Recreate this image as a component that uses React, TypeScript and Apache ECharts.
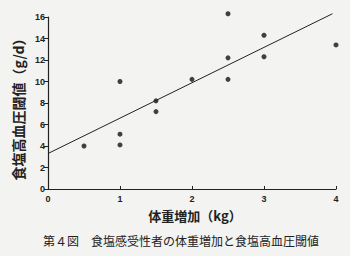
import React, { useEffect, useRef } from "react";
import * as echarts from "echarts";

const weightGain = [0.5, 1, 1, 1, 1.5, 1.5, 2, 2.5, 2.5, 2.5, 3, 3, 4];
const threshold = [4.0, 10.0, 5.1, 4.1, 8.2, 7.2, 10.2, 16.3, 12.2, 10.2, 14.3, 12.3, 13.4];
const fitX = [0, 3.95];
const fitY = [3.3, 16.3];
const yTicks = [0, 2, 4, 6, 8, 10, 12, 14, 16];
const xTicks = [0, 1, 2, 3, 4];
const xName = "体重増加（kg）";
const yName = "食塩高血圧閾値（g/d）";
const caption = "第４図　食塩感受性者の体重増加と食塩高血圧閾値";

export default function App() {
  const ref = useRef<HTMLDivElement>(null);
  useEffect(() => {
    const chart = echarts.init(ref.current!, null, { renderer: "svg" });
    const ink = "#222";
    chart.setOption({
      animation: false,
      backgroundColor: "#f3f3f1",
      textStyle: { fontFamily: "'Noto Sans CJK JP', 'DejaVu Sans', sans-serif" },
      grid: { left: 48, right: 14, top: 17, bottom: 67 },
      xAxis: {
        type: "value",
        min: xTicks[0],
        max: xTicks[xTicks.length - 1],
        interval: 1,
        axisLine: { lineStyle: { color: ink, width: 1.2 } },
        axisTick: { inside: true, length: 3, lineStyle: { color: ink } },
        axisLabel: { color: ink, fontSize: 9, fontWeight: "bold", fontFamily: "Liberation Sans", margin: 5 },
        splitLine: { show: false },
      },
      yAxis: {
        type: "value",
        min: yTicks[0],
        max: yTicks[yTicks.length - 1],
        interval: 2,
        axisLine: { show: true, lineStyle: { color: ink, width: 1.2 } },
        axisTick: { show: true, length: 4, lineStyle: { color: ink } },
        axisLabel: { color: ink, fontSize: 9, fontWeight: "bold", fontFamily: "Liberation Sans", margin: 3 },
        splitLine: { show: false },
      },
      graphic: [
        {
          type: "text",
          x: 18,
          y: 106,
          rotation: Math.PI / 2,
          style: {
            text: yName,
            fill: ink,
            font: "bold 14px 'Noto Sans CJK JP'",
            align: "center",
            verticalAlign: "middle",
          },
        },
        {
          type: "text",
          x: 195,
          y: 215,
          style: {
            text: xName,
            fill: ink,
            font: "bold 13px 'Noto Sans CJK JP'",
            align: "center",
            verticalAlign: "middle",
          },
        },
        {
          type: "text",
          x: 181,
          y: 240,
          style: {
            text: caption,
            fill: ink,
            font: "12px 'Noto Sans CJK JP'",
            align: "center",
            verticalAlign: "middle",
          },
        },
      ],
      series: [
        {
          type: "line",
          data: fitX.map((x, i) => [x, fitY[i]]),
          symbol: "none",
          clip: false,
          lineStyle: { color: ink, width: 1 },
        },
        {
          type: "scatter",
          data: weightGain.map((x, i) => [x, threshold[i]]),
          symbolSize: 5,
          clip: false,
          itemStyle: { color: "#111" },
        },
      ],
    });
    return () => chart.dispose();
  }, []);
  return <div ref={ref} style={{ width: 350, height: 256, position: "absolute", left: 0, top: 0 }} />;
}
